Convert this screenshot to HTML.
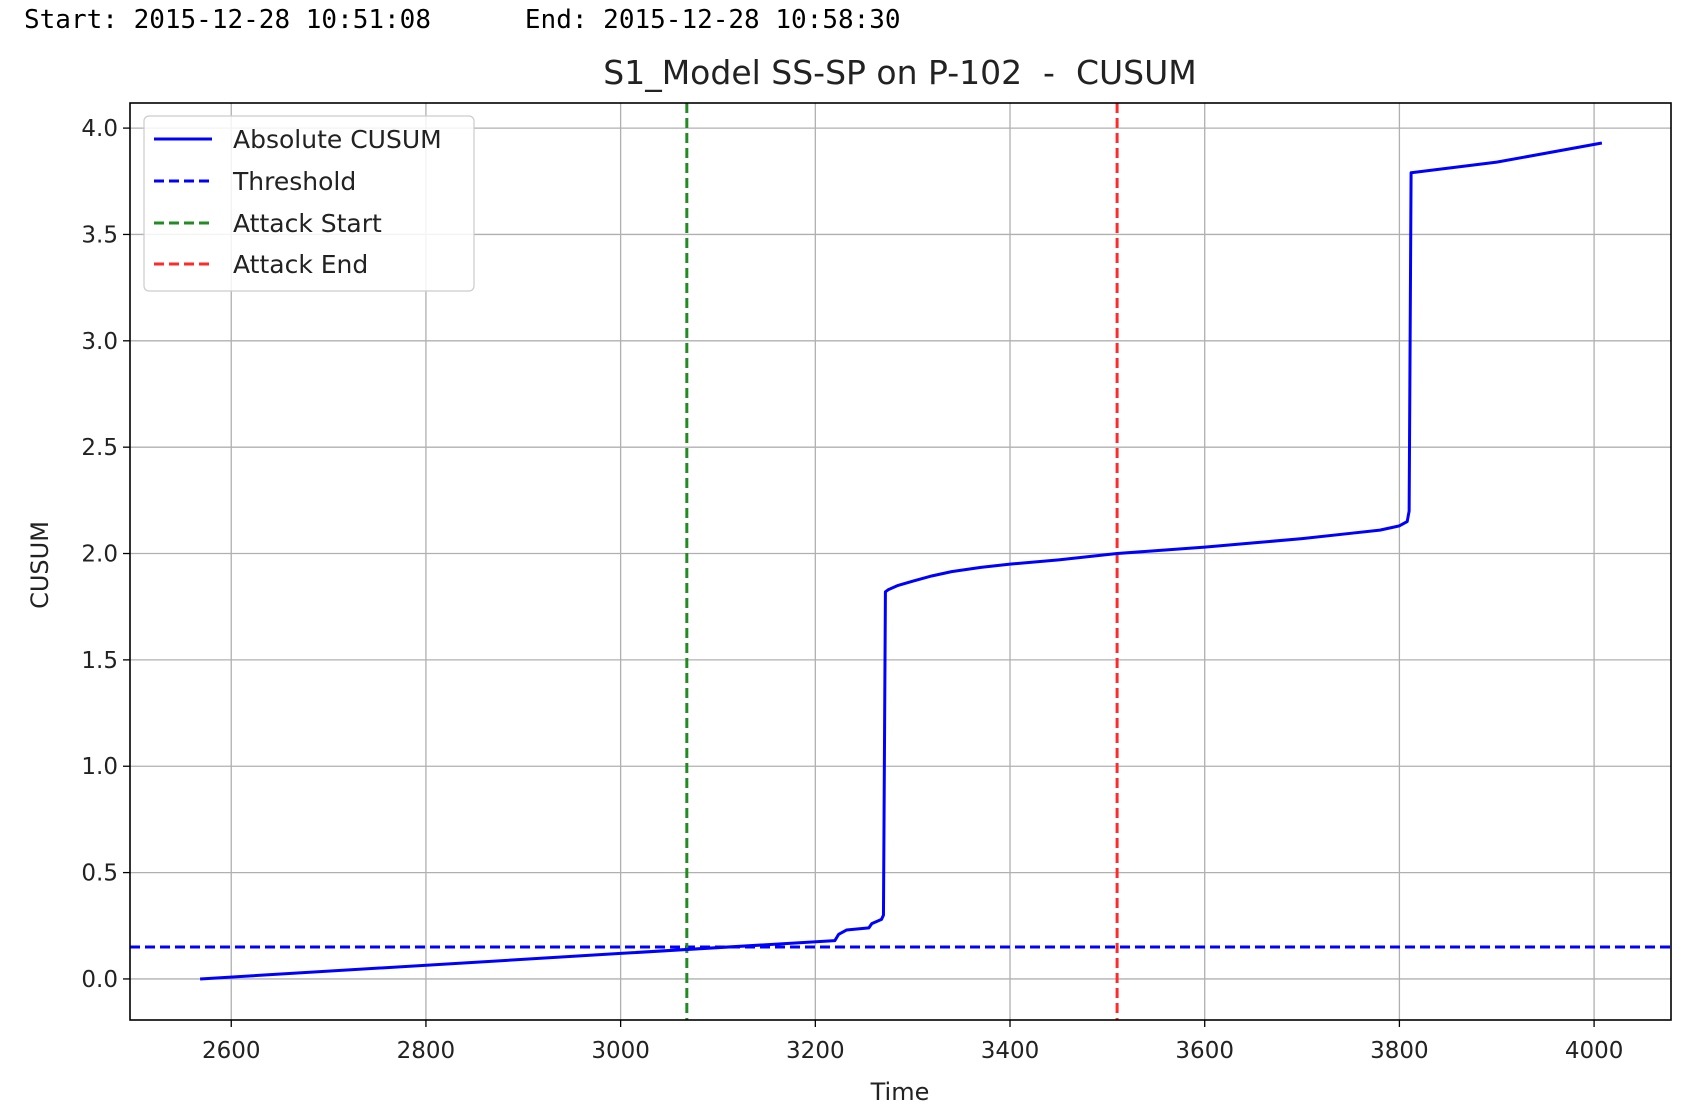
<!DOCTYPE html>
<html><head><meta charset="utf-8"><style>
html,body{margin:0;padding:0;background:#fff;}
svg{display:block;font-family:"DejaVu Sans","Liberation Sans",sans-serif;}
</style></head><body>
<svg id="chart" width="1688" height="1110" viewBox="0 0 1688 1110">
<text x="24" y="28" font-family="DejaVu Sans Mono, Liberation Mono, monospace" font-size="26" fill="#000" xml:space="preserve">Start: 2015-12-28 10:51:08      End: 2015-12-28 10:58:30</text>
<text x="900" y="84" text-anchor="middle" font-size="33" fill="#222" xml:space="preserve">S1_Model SS-SP on P-102  -  CUSUM</text>
<g id="grid"></g>
<g id="marks"></g>
<rect x="130" y="103" width="1541" height="917" fill="none" stroke="#000" stroke-width="1.6"/>
<g id="ticks"></g>
<text x="900" y="1100" text-anchor="middle" font-size="24" fill="#222">Time</text>
<text transform="translate(48,565) rotate(-90)" text-anchor="middle" font-size="24" fill="#222">CUSUM</text>
<g>
<rect x="144" y="116" width="330" height="175" rx="5" fill="#fff" fill-opacity="0.85" stroke="#ccc" stroke-width="1.2"/>
<line x1="154" y1="139" x2="212" y2="139" stroke="#0000ff" stroke-width="3"/>
<text x="233" y="148" font-size="25" fill="#222">Absolute CUSUM</text>
<line x1="154" y1="181" x2="212" y2="181" stroke="#0000ff" stroke-width="3" stroke-dasharray="10,5"/>
<text x="233" y="190" font-size="25" fill="#222">Threshold</text>
<line x1="154" y1="223" x2="212" y2="223" stroke="#228b22" stroke-width="3" stroke-dasharray="10,5"/>
<text x="233" y="232" font-size="25" fill="#222">Attack Start</text>
<line x1="154" y1="264" x2="212" y2="264" stroke="#ff2a2a" stroke-width="3" stroke-dasharray="10,5"/>
<text x="233" y="273" font-size="25" fill="#222">Attack End</text>
</g>
</svg>
<script>
const times=[2568,3000,3220,3224,3232,3255,3258,3268,3270,3272,3275,3285,3300,3320,3340,3370,3400,3450,3510,3600,3650,3700,3750,3780,3800,3808,3810,3812,3900,4008];
const cusum=[0.0,0.12,0.18,0.21,0.23,0.24,0.26,0.28,0.30,1.82,1.83,1.85,1.87,1.895,1.915,1.935,1.95,1.97,2.0,2.03,2.05,2.07,2.095,2.11,2.13,2.15,2.2,3.79,3.84,3.93];
const threshold=[0.15];
const attackStart=[3068];
const attackEnd=[3510];
const xTicks=[2600,2800,3000,3200,3400,3600,3800,4000];
const yTicks=[0.0,0.5,1.0,1.5,2.0,2.5,3.0,3.5,4.0];
const L=130,R=1671,T=103,B=1020;
const xd=[2496,4079],yd=[-0.193,4.118];
const X=v=>L+(v-xd[0])/(xd[1]-xd[0])*(R-L);
const Y=v=>B-(v-yd[0])/(yd[1]-yd[0])*(B-T);
const NS='http://www.w3.org/2000/svg';
function mk(tag,attrs,parent){const e=document.createElementNS(NS,tag);for(const k in attrs)e.setAttribute(k,attrs[k]);document.getElementById(parent).appendChild(e);return e;}
xTicks.forEach(t=>{
 const g=mk('line',{x1:X(t),x2:X(t),y1:T,y2:B,stroke:'#b0b0b0','stroke-width':1.3},'grid');
 
 
 mk('line',{x1:X(t),x2:X(t),y1:B,y2:B+7,stroke:'#000','stroke-width':1.3},'ticks');
 const tx=mk('text',{x:X(t),y:B+38,'text-anchor':'middle','font-size':23,fill:'#222'},'ticks');
 tx.textContent=t;
 
 
});
yTicks.forEach(t=>{
 const g=mk('line',{x1:L,x2:R,y1:Y(t),y2:Y(t),stroke:'#b0b0b0','stroke-width':1.3},'grid');
 
 
 mk('line',{x1:L-7,x2:L,y1:Y(t),y2:Y(t),stroke:'#000','stroke-width':1.3},'ticks');
 const tx=mk('text',{x:L-12,y:Y(t)+8,'text-anchor':'end','font-size':23,fill:'#222'},'ticks');
 tx.textContent=t.toFixed(1);
 
 
});
const th=mk('line',{x1:L,x2:R,y1:Y(threshold[0]),y2:Y(threshold[0]),stroke:'#0000ff','stroke-width':3,'stroke-dasharray':'10,5'},'marks');


const as=mk('line',{x1:X(attackStart[0]),x2:X(attackStart[0]),y1:T,y2:B,stroke:'#228b22','stroke-width':3,'stroke-dasharray':'10,5'},'marks');


const ae=mk('line',{x1:X(attackEnd[0]),x2:X(attackEnd[0]),y1:T,y2:B,stroke:'#ff2a2a','stroke-width':3,'stroke-dasharray':'10,5'},'marks');


const p=mk('polyline',{points:times.map((t,i)=>X(t)+','+Y(cusum[i])).join(' '),fill:'none',stroke:'#0000ff','stroke-width':3,'stroke-linejoin':'round'},'marks');


</script>
</body></html>
